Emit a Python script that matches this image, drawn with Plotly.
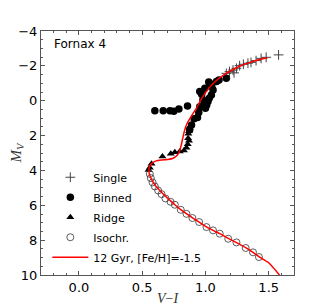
import plotly.graph_objects as go

# Single stars (crosses)
single_vi = [1.165, 1.19, 1.218, 1.226, 1.245, 1.27, 1.30, 1.336, 1.36, 1.40, 1.44, 1.48, 1.578]
single_mv = [-1.57, -1.67, -1.76, -1.60, -1.86, -2.01, -2.09, -2.15, -2.20, -2.30, -2.43, -2.49, -2.63]

# Binned (filled circles)
binned_vi = [0.60, 0.666, 0.72, 0.75, 0.79, 0.858,
             0.875, 0.89, 0.91, 0.937, 0.947, 0.955, 0.97, 0.98, 0.995, 1.0,
             1.02, 1.03, 1.047, 1.06, 0.995, 1.033, 1.026, 1.05, 1.087, 1.107,
             1.165, 0.99, 1.01, 0.955]
binned_mv = [0.58, 0.58, 0.58, 0.60, 0.47, 0.30,
             1.67, 1.39, 1.04, 0.97, 0.68, 0.34, -0.37, -0.05, 0.14, 0.43,
             0.05, -0.14, -0.33, -0.62, -0.72, -1.00, -1.08, -0.81, -1.10, -1.19,
             -1.29, 0.30, 0.25, -0.53]

# Ridge (triangles)
ridge_vi = [0.55, 0.56, 0.574, 0.66, 0.726, 0.758, 0.797, 0.83, 0.85, 0.86, 0.87,
            0.863, 0.865, 0.87, 0.875, 0.88]
ridge_mv = [3.97, 3.85, 3.62, 3.20, 3.05, 2.95, 2.92, 2.85, 2.70, 2.50, 2.30,
            2.15, 1.90, 1.75, 1.55, 1.45]

# Isochrone points (open circles)
iso_vi = [0.56, 0.568, 0.582, 0.60, 0.626, 0.653, 0.684, 0.724, 0.758, 0.805, 0.85,
          0.897, 0.95, 1.008, 1.06, 1.113, 1.18, 1.245, 1.318, 1.376, 1.423]
iso_mv = [4.20, 4.44, 4.69, 4.92, 5.15, 5.36, 5.61, 5.80, 5.97, 6.26, 6.49,
          6.73, 6.96, 7.25, 7.44, 7.63, 7.92, 8.13, 8.45, 8.70, 8.97]

# 12 Gyr isochrone line
line_vi = [1.585, 1.50, 1.423, 1.376, 1.318, 1.245, 1.18, 1.113, 1.06, 1.008, 0.95,
           0.897, 0.85, 0.805, 0.758, 0.72, 0.684, 0.653, 0.626, 0.60, 0.58, 0.565,
           0.555, 0.553, 0.56, 0.58, 0.61, 0.65, 0.70, 0.745, 0.775, 0.795, 0.81,
           0.822, 0.835, 0.852, 0.875, 0.905, 0.935, 0.96, 0.99, 1.03, 1.08, 1.14,
           1.20, 1.27, 1.34, 1.42, 1.49]
line_mv = [10.0, 9.30, 8.95, 8.70, 8.43, 8.14, 7.90, 7.63, 7.44, 7.24, 6.96,
           6.72, 6.48, 6.25, 5.97, 5.72, 5.48, 5.25, 5.05, 4.83, 4.60, 4.38,
           4.15, 3.95, 3.75, 3.57, 3.45, 3.40, 3.37, 3.30, 3.15, 2.90, 2.50,
           2.10, 1.70, 1.35, 1.05, 0.70, 0.35, 0.0, -0.35, -0.75, -1.12, -1.45,
           -1.72, -1.98, -2.17, -2.35, -2.47]

x_ticks = [0.0, 0.5, 1.0, 1.5]
y_ticks = [-4, -2, 0, 2, 4, 6, 8, 10]

fig = go.Figure()
fig.add_trace(go.Scatter(x=single_vi, y=single_mv, mode="markers", name="Single", legendgroup="a",
                         marker=dict(symbol="cross-thin", size=7, color="#444",
                                     line=dict(width=1, color="#444"))))
fig.add_trace(go.Scatter(x=binned_vi, y=binned_mv, mode="markers", name="Binned", legendgroup="b",
                         marker=dict(symbol="circle", size=7.5, color="black")))
fig.add_trace(go.Scatter(x=ridge_vi, y=ridge_mv, mode="markers", name="Ridge", legendgroup="c",
                         marker=dict(symbol="triangle-up", size=7, color="black")))
fig.add_trace(go.Scatter(x=iso_vi, y=iso_mv, mode="markers", name="Isochr.", legendgroup="d",
                         marker=dict(symbol="circle-open", size=7, color="#333",
                                     line=dict(width=0.8, color="#333"))))
fig.add_trace(go.Scatter(x=line_vi, y=line_mv, mode="lines", name="12 Gyr, [Fe/H]=-1.5",
                         legendgroup="e",
                         line=dict(color="red", width=1.5, shape="spline", smoothing=0.6)))

axis_common = dict(showgrid=False, zeroline=False, showline=True, linecolor="#555",
                   linewidth=1, mirror="allticks", ticks="inside", ticklen=4,
                   tickcolor="#555", automargin=False,
                   tickfont=dict(family="DejaVu Sans", size=13, color="black"))

fig.update_xaxes(range=[-0.3, 1.7], tickvals=x_ticks, tickformat=".1f",
                 minor=dict(dtick=0.1, ticks="inside", ticklen=2, tickcolor="#555"),
                 title=dict(text="<i>V</i>−<i>I</i>", standoff=2,
                            font=dict(family="Liberation Serif", size=14, color="#333")),
                 **axis_common)
fig.update_yaxes(range=[10, -4], tickvals=y_ticks,
                 minor=dict(dtick=0.5, ticks="inside", ticklen=2, tickcolor="#555"),
                 title=dict(text="<i>M<sub>V</sub></i>", standoff=11,
                            font=dict(family="Liberation Serif", size=15, color="#333")),
                 **axis_common)

fig.add_annotation(x=0.045, y=0.945, xref="paper", yref="paper", text="Fornax 4",
                   showarrow=False, xanchor="left", yanchor="middle",
                   font=dict(family="DejaVu Sans", size=12, color="black"))

# page body has an 8px margin, so the figure is shrunk and its margins offset by it
fig.update_layout(width=319, height=298, margin=dict(l=33, r=33, t=23, b=31),
                  plot_bgcolor="white", paper_bgcolor="white",
                  legend=dict(x=0.025, y=0.46, xanchor="left", yanchor="top",
                              tracegroupgap=1.0, itemwidth=36,
                              bgcolor="rgba(0,0,0,0)", font=dict(family="DejaVu Sans", size=11,
                                                                 color="black")))
fig.write_html("out.html")
